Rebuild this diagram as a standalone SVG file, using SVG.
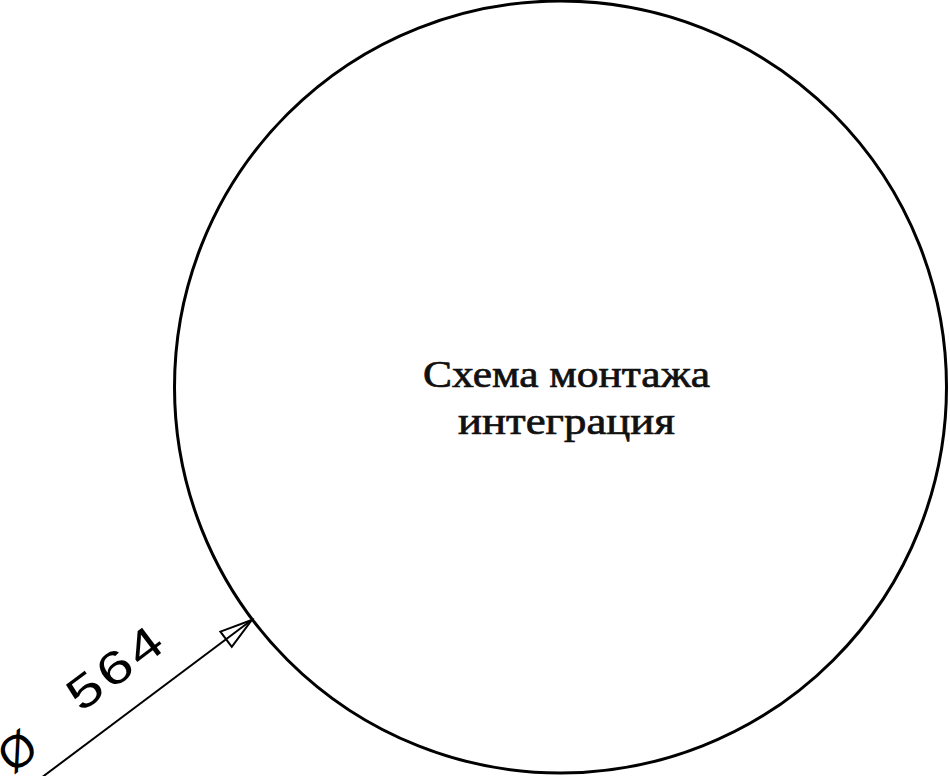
<svg xmlns="http://www.w3.org/2000/svg" width="950" height="776" viewBox="0 0 950 776">
  <defs>
    <style>
      .outline { fill: none; stroke: #000; stroke-width: 3; }
      .dim { fill: none; stroke: #000; stroke-width: 2; stroke-linejoin: miter; }
      .title { font-family: "Liberation Serif", "DejaVu Serif", serif; font-size: 38px; fill: #111; stroke: #111; stroke-width: 0.7; text-anchor: middle; }
      .dimtext { font-family: "Liberation Sans", "DejaVu Sans", sans-serif; font-size: 46px; fill: #000; }
    </style>
  </defs>
  <rect width="950" height="776" fill="#fff"/>
  <g id="circle-node">
    <circle class="outline" cx="560.5" cy="387" r="386"/>
    <text class="title" x="566.5" y="387" textLength="287" lengthAdjust="spacingAndGlyphs">Схема монтажа</text>
    <text class="title" x="566.5" y="434" textLength="217" lengthAdjust="spacingAndGlyphs">интеграция</text>
  </g>
  <g id="connectors">
    <g id="diameter-dimension" transform="translate(251.7,620) rotate(-36.87)">
      <line class="dim" x1="-340" y1="0" x2="0" y2="0"/>
      <polygon class="dim" points="0,0 -32,-9.5 -32,9.5"/>
      <text class="dimtext" x="-284" y="-20">Ø</text>
      <text class="dimtext" transform="scale(1.3,1)" x="-148" y="-28" letter-spacing="3">564</text>
    </g>
  </g>
</svg>
